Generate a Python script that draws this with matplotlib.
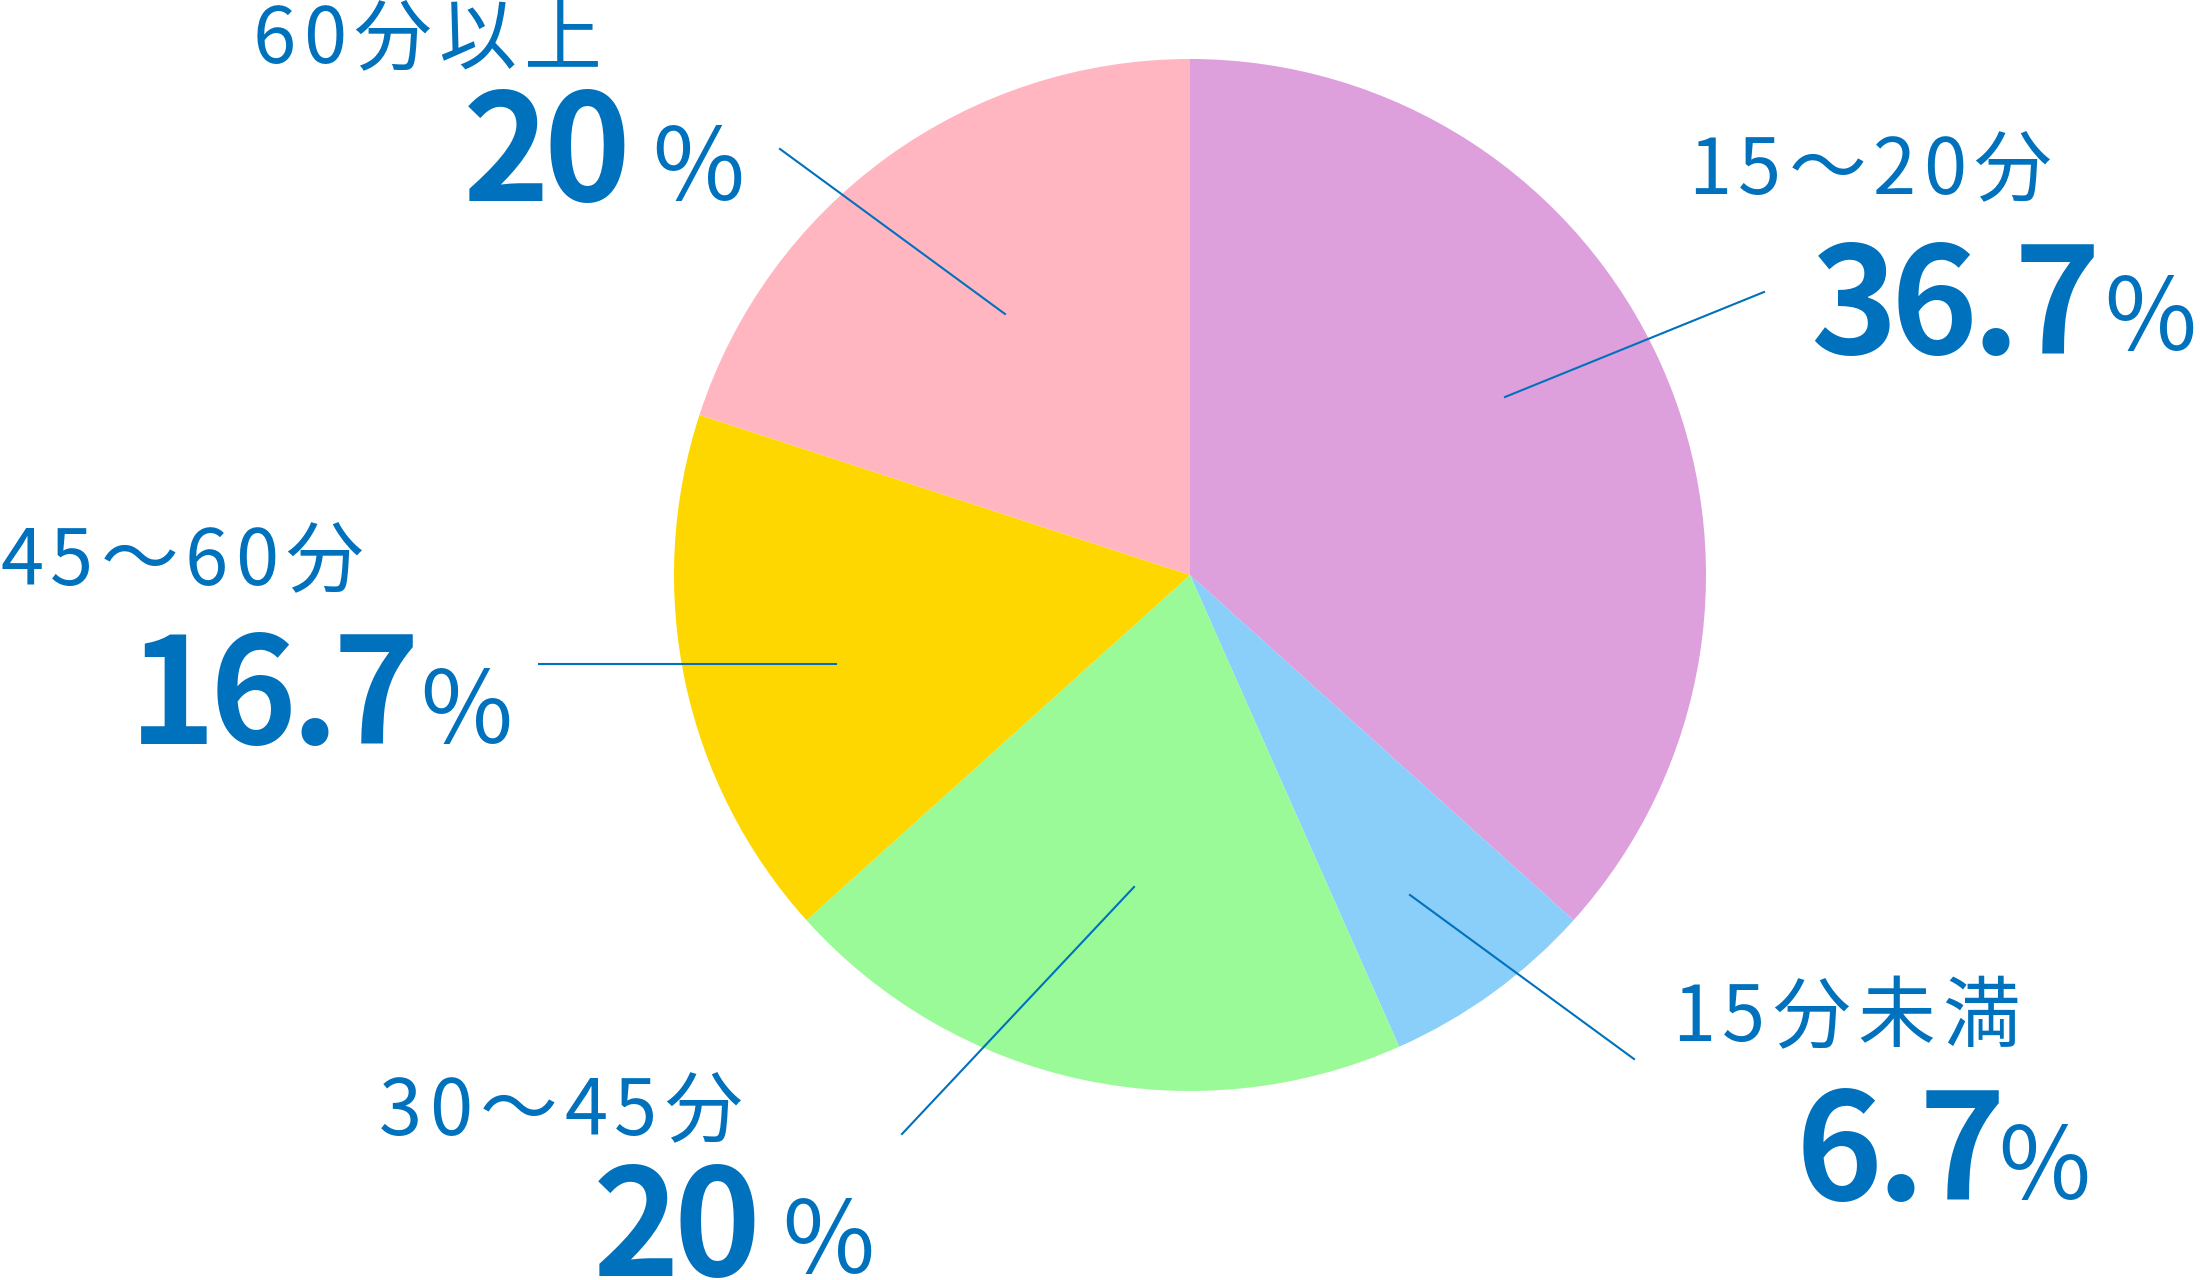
import matplotlib
matplotlib.use("Agg")
import matplotlib.pyplot as plt

plt.rcParams['font.family'] = ['Noto Sans CJK JP', 'DejaVu Sans']

# data: commute time share, clockwise from the top
labels = ["15～20分", "15分未満", "30～45分", "45～60分", "60分以上"]
values = [36.7, 6.7, 20, 16.7, 20]
value_text = ["36.7", "6.7", "20", "16.7", "20"]
colors = ["#DDA0DD", "#8ACEFA", "#9AFA98", "#FFD700", "#FFB6C1"]

blue = "#0071BC"
W, H = 2200, 1280

# layout, in pixels of the output picture (y grows downwards)
label_pos = [(1688, 194), (1672, 1041), (379, 1135), (0, 585), (253, 63)]
num_pos = [(1810, 354), (1796, 1200), (593, 1276), (129, 744), (463, 201)]
pct_pos = [(2100, 351), (1994, 1200), (778, 1274), (416, 744), (648, 201)]
lines = [((1505, 397), (1764, 292)),
         ((1410, 895), (1634, 1059)),
         ((1134, 887), (902, 1134)),
         ((539, 664), (836, 664)),
         ((780, 149), (1005, 314))]

fig = plt.figure(figsize=(W / 100, H / 100), dpi=100)
ax = fig.add_axes([0, 0, 1, 1])

# inverted y: counterclock in data = clockwise on screen
ax.pie(values, colors=colors, center=(1190, 575), radius=516,
       startangle=-90, counterclock=True, frame=True,
       wedgeprops=dict(linewidth=0))
ax.set_xlim(0, W)
ax.set_ylim(H, 0)
ax.set_aspect('equal')
ax.axis('off')

renderer = fig.canvas.get_renderer()


def spaced_text(x, y, s, track, **kw):
    # draw char by char so the letter spacing can be widened
    for ch in s:
        t = ax.text(x, y, ch, color=blue, ha='left', va='baseline', **kw)
        x += t.get_window_extent(renderer).width + track


for i in range(len(labels)):
    (x0, y0), (x1, y1) = lines[i]
    ax.plot([x0, x1], [y0, y1], color=blue, lw=1.5)
    spaced_text(label_pos[i][0], label_pos[i][1], labels[i], 7, fontsize=56)
    spaced_text(num_pos[i][0], num_pos[i][1], value_text[i], -6,
                fontsize=106, fontweight='bold')
    ax.text(pct_pos[i][0], pct_pos[i][1], "％", color=blue,
            fontsize=72, ha='left', va='baseline')

fig.savefig("out.png", dpi=100)
